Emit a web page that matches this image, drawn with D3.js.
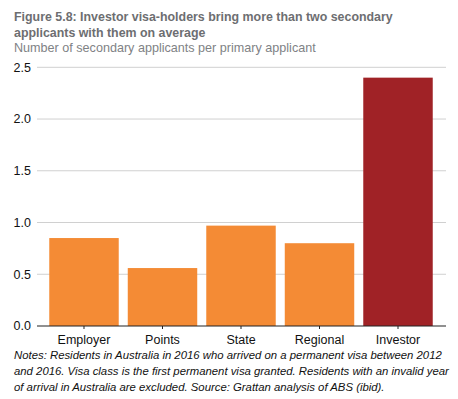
<!DOCTYPE html>
<html>
<head>
<meta charset="utf-8">
<script src="https://cdn.jsdelivr.net/npm/d3@7"></script>
<style>
  body { margin: 0; background: #fff; }
  svg { display: block; font-family: "Liberation Sans", Arial, sans-serif; }
</style>
</head>
<body>
<div id="chart"></div>
<script>
// Data
const categories = ['Employer', 'Points', 'State', 'Regional', 'Investor'];
const values = [0.85, 0.56, 0.97, 0.80, 2.40];
const yTicks = [0, 0.5, 1.0, 1.5, 2.0, 2.5];
const titleLines = [
  'Figure 5.8: Investor visa-holders bring more than two secondary',
  'applicants with them on average'
];
const subtitle = 'Number of secondary applicants per primary applicant';
const noteLines = [
  'Notes: Residents in Australia in 2016 who arrived on a permanent visa between 2012',
  'and 2016. Visa class is the first permanent visa granted. Residents with an invalid year',
  'of arrival in Australia are excluded. Source: Grattan analysis of ABS (ibid).'
];

const width = 458, height = 399;
const orange = '#f48b35', red = '#a02226';

const svg = d3.select('#chart')
  .append('svg')
    .attr('width', width)
    .attr('height', height);

// Scales
const x = d3.scaleBand()
  .domain(categories)
  .range([40, 442])
  .paddingInner(0.115)
  .paddingOuter(0.118);

const y = d3.scaleLinear()
  .domain([0, 2.5])
  .range([326, 67.3]);

// Title + subtitle
svg.append('g')
  .selectAll('text')
  .data(titleLines)
  .join('text')
    .attr('x', 14)
    .attr('y', (d, i) => 21 + i * 16)
    .attr('font-size', 12.4)
    .attr('font-weight', 'bold')
    .attr('fill', '#6d6e71')
    .text(d => d);

svg.append('text')
  .attr('x', 14)
  .attr('y', 52)
  .attr('font-size', 12.6)
  .attr('fill', '#808285')
  .text(subtitle);

// Gridlines
svg.append('g')
  .selectAll('line')
  .data(yTicks.filter(d => d > 0))
  .join('line')
    .attr('x1', 37)
    .attr('x2', 446)
    .attr('y1', d => y(d))
    .attr('y2', d => y(d))
    .attr('stroke', '#d0d0d0')
    .attr('stroke-width', 1);

// Y axis labels
svg.append('g')
  .selectAll('text')
  .data(yTicks)
  .join('text')
    .attr('x', 31)
    .attr('y', d => y(d))
    .attr('dy', '0.35em')
    .attr('text-anchor', 'end')
    .attr('font-size', 12.5)
    .attr('fill', '#111')
    .text(d => d.toFixed(1));

// Bars
svg.append('g')
  .selectAll('rect')
  .data(values)
  .join('rect')
    .attr('x', (d, i) => x(categories[i]))
    .attr('y', d => y(d))
    .attr('width', x.bandwidth())
    .attr('height', d => y(0) - y(d))
    .attr('fill', (d, i) => categories[i] === 'Investor' ? red : orange);

// X axis
const xAxis = svg.append('g')
  .attr('transform', `translate(0,${y(0)})`)
  .call(d3.axisBottom(x).tickSize(3).tickSizeOuter(0));
xAxis.select('.domain').remove();
xAxis.append('line')
  .attr('x1', 37)
  .attr('x2', 446)
  .attr('stroke', '#222')
  .attr('stroke-width', 1.2);
xAxis.selectAll('.tick line').attr('stroke', '#222');
xAxis.selectAll('.tick text')
  .attr('font-family', '"Liberation Sans", Arial, sans-serif')
  .attr('font-size', 12.5)
  .attr('fill', '#111')
  .attr('dy', '0.95em');

// Notes
svg.append('g')
  .selectAll('text')
  .data(noteLines)
  .join('text')
    .attr('x', 14)
    .attr('y', (d, i) => 359 + i * 16)
    .attr('font-size', 11.35)
    .attr('font-style', 'italic')
    .attr('fill', '#111')
    .text(d => d);
</script>
</body>
</html>
